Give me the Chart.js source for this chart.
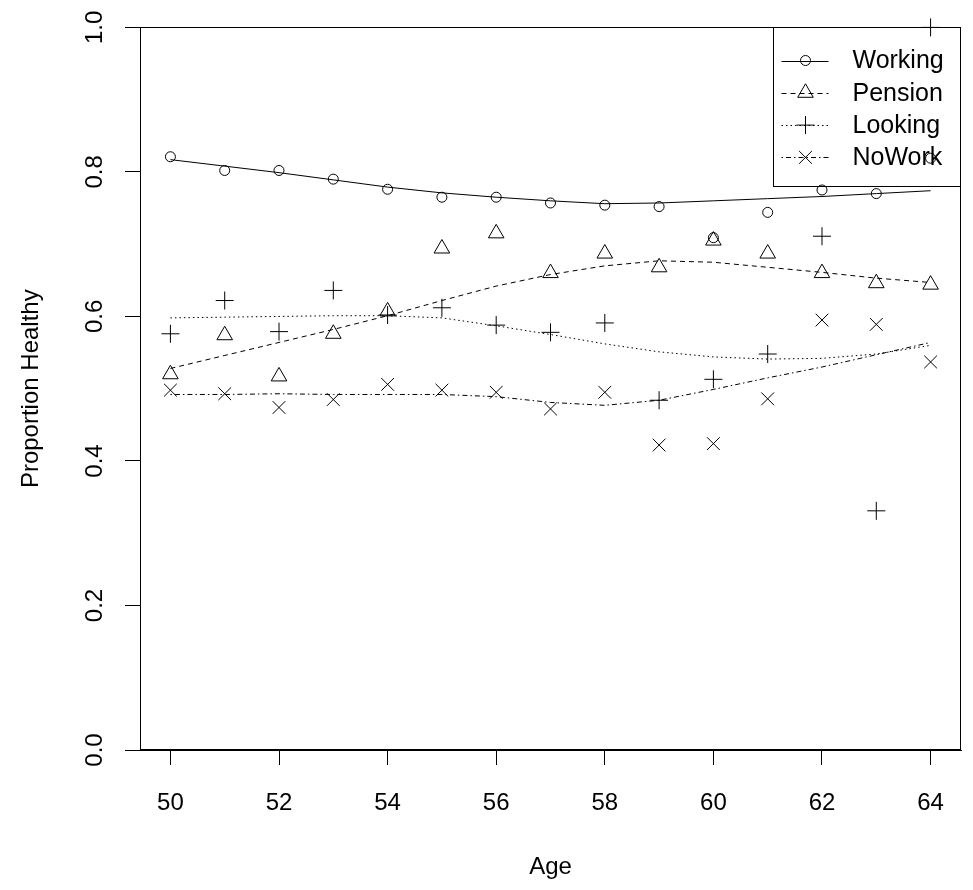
<!DOCTYPE html>
<html>
<head>
<meta charset="utf-8">
<title>Proportion Healthy by Age</title>
<script src="https://cdn.jsdelivr.net/npm/chart.js@4.4.1/dist/chart.umd.min.js"></script>
<style>
    html, body { margin: 0; padding: 0; background: #fff; }
    #wrap { width: 973px; height: 890px; position: relative; }
</style>
</head>
<body>
<div id="wrap"><canvas id="healthChart"></canvas></div>
<script>
// Data
const ages = [50, 51, 52, 53, 54, 55, 56, 57, 58, 59, 60, 61, 62, 63, 64];

const workingObs = [0.821, 0.802, 0.802, 0.790, 0.776, 0.765, 0.765, 0.757, 0.754, 0.752, 0.709, 0.744, 0.775, 0.770, 0.819];
const pensionObs = [0.520, 0.574, 0.517, 0.576, 0.607, 0.694, 0.715, 0.660, 0.687, 0.668, 0.705, 0.687, 0.660, 0.646, 0.644];
const lookingObs = [0.576, 0.622, 0.579, 0.636, 0.602, 0.612, 0.588, 0.578, 0.591, 0.484, 0.513, 0.548, 0.711, 0.331, 1.000];
const noWorkObs  = [0.498, 0.493, 0.474, 0.485, 0.506, 0.498, 0.495, 0.472, 0.495, 0.422, 0.424, 0.486, 0.595, 0.589, 0.537];

// smoothed (lowess) curves
const workingFit = [0.817, 0.808, 0.799, 0.789, 0.779, 0.771, 0.765, 0.760, 0.756, 0.757, 0.760, 0.763, 0.766, 0.770, 0.774];
const pensionFit = [0.528, 0.546, 0.564, 0.582, 0.601, 0.622, 0.642, 0.658, 0.670, 0.677, 0.675, 0.668, 0.661, 0.653, 0.647];
const lookingFit = [0.598, 0.599, 0.600, 0.601, 0.601, 0.598, 0.587, 0.575, 0.562, 0.551, 0.544, 0.541, 0.542, 0.548, 0.560];
const noWorkFit  = [0.492, 0.492, 0.493, 0.492, 0.492, 0.492, 0.489, 0.481, 0.477, 0.484, 0.499, 0.515, 0.530, 0.547, 0.564];

const seriesNames = ['Working', 'Pension', 'Looking', 'NoWork'];
const xTicks = [50, 52, 54, 56, 58, 60, 62, 64];
const yTicks = [0, 0.2, 0.4, 0.6, 0.8, 1.0];

const FONT = '"Liberation Sans", Arial, Helvetica, sans-serif';
Chart.defaults.font.family = FONT;
Chart.defaults.font.size = 24;
Chart.defaults.color = '#000';

const styles = [
    { point: 'circle',   radius: 5, dash: [] },
    { point: 'triangle', radius: 9, dash: [5, 4] },
    { point: 'cross',    radius: 9, dash: [1.5, 3] },
    { point: 'crossRot', radius: 9, dash: [1.5, 3, 5, 3] }
];

function pts(vals) {
    return ages.map((a, i) => ({ x: a, y: vals[i] }));
}

const obsSets = [workingObs, pensionObs, lookingObs, noWorkObs];
const fitSets = [workingFit, pensionFit, lookingFit, noWorkFit];

const datasets = [];
obsSets.forEach((vals, i) => {
    datasets.push({
        label: seriesNames[i],
        data: pts(vals),
        showLine: false,
        pointStyle: styles[i].point,
        pointRadius: styles[i].radius,
        pointBorderWidth: 1,
        pointBorderColor: '#000',
        pointBackgroundColor: 'rgba(0,0,0,0)',
        clip: false
    });
});
fitSets.forEach((vals, i) => {
    datasets.push({
        label: seriesNames[i] + ' fit',
        data: pts(vals),
        showLine: true,
        borderColor: '#000',
        borderWidth: 1,
        borderDash: styles[i].dash,
        pointRadius: 0,
        tension: 0,
        fill: false
    });
});

// draw the frame and the R-style legend
const framePlugin = {
    id: 'frame',
    afterDatasetsDraw(chart) {
        const { ctx, chartArea } = chart;
        const l = Math.round(chartArea.left) + 0.5;
        const t = Math.round(chartArea.top) + 0.5;
        const r = Math.round(chartArea.right) - 0.5;
        const b = Math.round(chartArea.bottom) - 0.5;
        ctx.save();
        ctx.strokeStyle = '#000';
        ctx.lineWidth = 1;
        ctx.setLineDash([]);
        ctx.strokeRect(l, t, r - l, b - t);

        // legend box in the top right corner
        const boxL = r - 187, boxT = t, boxB = t + 159;
        ctx.strokeRect(boxL, boxT, r - boxL, boxB - boxT);

        ctx.font = '25px ' + FONT;
        ctx.fillStyle = '#000';
        ctx.textBaseline = 'middle';
        ctx.textAlign = 'left';
        seriesNames.forEach((name, i) => {
            const y = boxT + 33 + i * 32.3;
            const x0 = boxL + 8, x1 = boxL + 55, xc = boxL + 32;
            ctx.beginPath();
            ctx.setLineDash(styles[i].dash);
            ctx.moveTo(x0, Math.round(y) + 0.5);
            ctx.lineTo(x1, Math.round(y) + 0.5);
            ctx.stroke();
            ctx.setLineDash([]);
            drawSymbol(ctx, styles[i].point, styles[i].radius, xc, y);
            ctx.fillText(name, boxL + 79, y + 1);
        });
        ctx.restore();
    }
};

function drawSymbol(ctx, style, r, x, y) {
    ctx.beginPath();
    if (style === 'circle') {
        ctx.arc(x, y, r, 0, Math.PI * 2);
    } else if (style === 'triangle') {
        ctx.moveTo(x, y - r);
        ctx.lineTo(x + r * Math.sin(2 * Math.PI / 3), y + r / 2);
        ctx.lineTo(x - r * Math.sin(2 * Math.PI / 3), y + r / 2);
        ctx.closePath();
    } else if (style === 'cross') {
        ctx.moveTo(x, y - r); ctx.lineTo(x, y + r);
        ctx.moveTo(x - r, y); ctx.lineTo(x + r, y);
    } else {
        const d = r * Math.SQRT1_2;
        ctx.moveTo(x - d, y - d); ctx.lineTo(x + d, y + d);
        ctx.moveTo(x + d, y - d); ctx.lineTo(x - d, y + d);
    }
    ctx.stroke();
}

new Chart(document.getElementById('healthChart'), {
    type: 'scatter',
    data: { datasets: datasets },
    options: {
        responsive: true,
        maintainAspectRatio: false,
        animation: false,
        devicePixelRatio: 1,
        layout: { padding: { top: 24, right: 12, left: 0, bottom: 0 } },
        plugins: {
            legend: { display: false },
            tooltip: { enabled: false }
        },
        scales: {
            x: {
                type: 'linear',
                min: 49.44,
                max: 64.56,
                afterBuildTicks: axis => { axis.ticks = xTicks.map(v => ({ value: v })); },
                afterFit: axis => { axis.height = 140; },
                ticks: {
                    padding: 24,
                    font: { size: 24 },
                    callback: v => String(v)
                },
                grid: {
                    display: true,
                    drawOnChartArea: false,
                    drawTicks: true,
                    tickLength: 15,
                    color: '#000',
                    lineWidth: 1
                },
                border: { display: true, color: '#000', width: 1 },
                title: {
                    display: true,
                    text: 'Age',
                    font: { size: 24 },
                    padding: { top: 0, bottom: 8 }
                }
            },
            y: {
                type: 'linear',
                min: 0,
                max: 1,
                afterBuildTicks: axis => { axis.ticks = yTicks.map(v => ({ value: v })); },
                afterFit: axis => { axis.width = 140; },
                ticks: {
                    minRotation: 90,
                    maxRotation: 90,
                    crossAlign: 'center',
                    padding: 13,
                    font: { size: 24 },
                    callback: v => v.toFixed(1)
                },
                grid: {
                    display: true,
                    drawOnChartArea: false,
                    drawTicks: true,
                    tickLength: 15,
                    color: '#000',
                    lineWidth: 1
                },
                border: { display: true, color: '#000', width: 1 },
                title: {
                    display: true,
                    text: 'Proportion Healthy',
                    font: { size: 24 },
                    padding: { top: 17, bottom: 0 }
                }
            }
        }
    },
    plugins: [framePlugin]
});
</script>
</body>
</html>
